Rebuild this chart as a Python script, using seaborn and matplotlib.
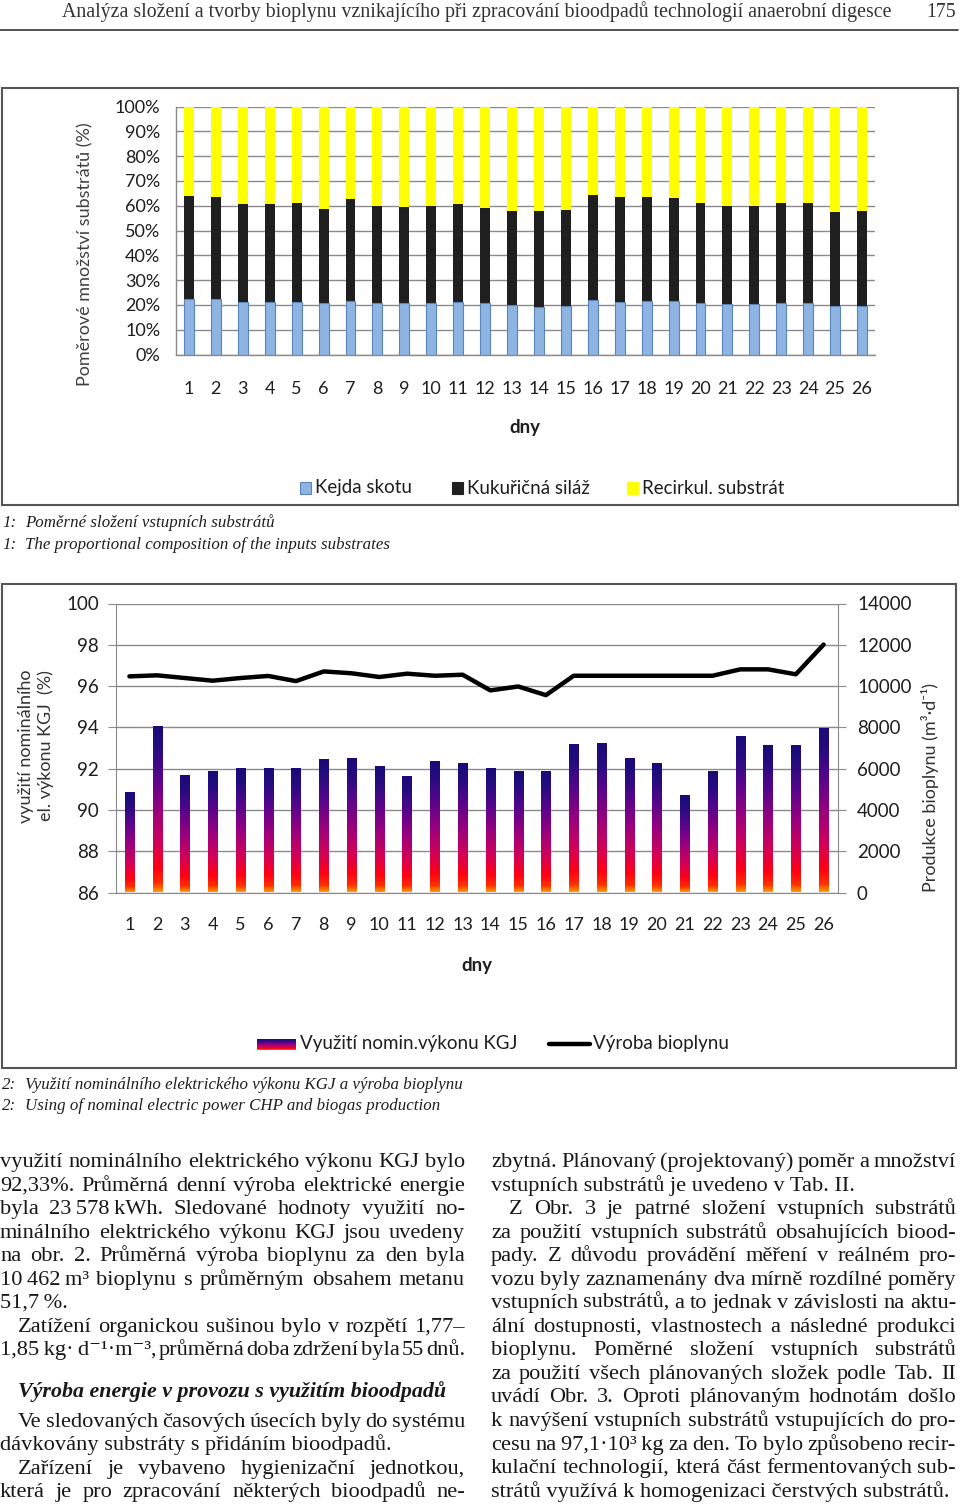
import numpy as np
import pandas as pd
import seaborn as sns
import matplotlib
matplotlib.use("Agg")
import matplotlib.pyplot as plt
from matplotlib.patches import Rectangle
from matplotlib.lines import Line2D
from matplotlib.colors import LinearSegmentedColormap
from matplotlib.font_manager import FontProperties

# ---------------- data ----------------
days = [str(i) for i in range(1, 27)]
kejda_skotu = [22.3, 22.2, 21.0, 21.1, 21.3, 20.6, 21.5, 20.6, 20.6, 20.7, 21.0, 20.6, 19.9,
               19.2, 19.5, 22.1, 21.1, 21.7, 21.5, 20.7, 20.3, 20.3, 20.7, 20.7, 19.5, 19.5]
kukuricna_silaz = [41.6, 41.2, 39.6, 39.5, 39.7, 38.2, 41.1, 39.4, 39.0, 39.3, 39.6, 38.6, 38.1,
                   38.8, 38.9, 42.2, 42.3, 41.7, 41.5, 40.5, 39.7, 39.7, 40.5, 40.5, 38.0, 38.5]
recirkul_substrat = [36.1, 36.6, 39.4, 39.4, 39.0, 41.2, 37.4, 40.0, 40.4, 40.0, 39.4, 40.8, 42.0,
                     42.0, 41.6, 35.7, 36.6, 36.6, 37.0, 38.8, 40.0, 40.0, 38.8, 38.8, 42.5, 42.0]
pct_ticks = [0, 10, 20, 30, 40, 50, 60, 70, 80, 90, 100]
pct_labels = ["0%", "10%", "20%", "30%", "40%", "50%", "60%", "70%", "80%", "90%", "100%"]

vyuziti_kgj = [90.82, 94.0, 91.66, 91.86, 91.97, 92.0, 91.97, 92.42, 92.47, 92.07, 91.6, 92.33, 92.23,
               92.0, 91.86, 91.86, 93.15, 93.2, 92.47, 92.23, 90.68, 91.86, 93.52, 93.12, 93.12, 93.91]
vyroba_bioplynu = [10470, 10520, 10390, 10260, 10390, 10490, 10240, 10710, 10620, 10440, 10600, 10500, 10550,
                   9790, 9980, 9560, 10500, 10500, 10500, 10500, 10500, 10500, 10810, 10810, 10570, 12010]
left_ticks = [86, 88, 90, 92, 94, 96, 98, 100]
right_ticks = [0, 2000, 4000, 6000, 8000, 10000, 12000, 14000]

# ---------------- figure ----------------
sns.set_style("white")
plt.rcParams["font.family"] = ["Lato", "DejaVu Sans"]
W, H = 960, 1507
fig = plt.figure(figsize=(W / 100, H / 100), dpi=100)
fig.patch.set_facecolor("white")


def fx(px):
    return px / W


def fy(py):
    return 1 - py / H


GRID = "#8a8a8a"
TXT = "#1e1e1e"
CHART_FONT = ["Lato", "DejaVu Sans"]

renderer = fig.canvas.get_renderer()


def text_width(s, fp):
    t = fig.text(0, 0, s, fontproperties=fp)
    w = t.get_window_extent(renderer).width
    t.remove()
    return w


def fit_fp(sample, width, **kw):
    fp = FontProperties(size=10, **kw)
    w = text_width(sample, fp)
    return FontProperties(size=10 * width / w, **kw)


SERIF = ["Liberation Serif", "DejaVu Serif"]

# ---------------- header ----------------
header = "Analýza složení a tvorby bioplynu vznikajícího při zpracování bioodpadů technologií anaerobní digesce"
fp_head = fit_fp(header, 831, family=SERIF)
fig.text(fx(62), fy(17), header, fontproperties=fp_head, color="#333333", va="baseline")
fig.text(fx(956), fy(17), "175", fontproperties=fp_head, color="#333333", va="baseline", ha="right")
fig.add_artist(Line2D([0, fx(958)], [fy(30), fy(30)], color="#333333", lw=1.2))

# ---------------- chart 1 ----------------
fig.add_artist(Rectangle((fx(2), fy(505)), fx(956), (505 - 88) / H, fill=False,
                         edgecolor="#555555", lw=1.5))
ax1 = fig.add_axes([fx(175.5), fy(354.5), 700 / W, (354.5 - 106.5) / H])
ax1.set_facecolor("none")
cum_black = [a + b for a, b in zip(kejda_skotu, kukuricna_silaz)]
cum_all = [a + b for a, b in zip(cum_black, recirkul_substrat)]
df1 = pd.DataFrame({"den": days, "kejda": kejda_skotu, "cb": cum_black, "ca": cum_all})
sns.barplot(data=df1, x="den", y="ca", color="#ffff00", width=0.37, saturation=1, ax=ax1,
            edgecolor="none", zorder=2)
sns.barplot(data=df1, x="den", y="cb", color="#1f1f1f", width=0.37, saturation=1, ax=ax1,
            edgecolor="none", zorder=2)
sns.barplot(data=df1, x="den", y="kejda", color="#8db4e2", width=0.37, saturation=1, ax=ax1,
            edgecolor="#5b84b9", linewidth=0.8, zorder=2)
ax1.set_ylim(0, 100)
ax1.set_xlim(-0.5, 25.5)
ax1.set_yticks(pct_ticks)
ax1.set_yticklabels(pct_labels)
ax1.set_axisbelow(True)
ax1.yaxis.grid(True, color=GRID, lw=1)
ax1.set_xlabel("")
ax1.set_ylabel("")
for s in ["top", "right"]:
    ax1.spines[s].set_visible(False)
for s in ["left", "bottom"]:
    ax1.spines[s].set_color(GRID)
    ax1.spines[s].set_linewidth(1)
ax1.set_xticks(np.arange(-0.5, 26, 1), minor=True)
ax1.tick_params(axis="x", which="major", length=0, pad=19, labelsize=13, labelcolor=TXT)
ax1.tick_params(axis="x", which="minor", length=6, color=GRID, direction="out")
ax1.tick_params(axis="y", which="major", length=6, color=GRID, direction="out", pad=5,
                labelsize=13, labelcolor=TXT)
fig.text(fx(525), fy(428), "dny", ha="center", va="center", fontsize=13.5, fontweight="bold", color=TXT)
fig.text(fx(85), fy(254), "Poměrové množství substrátů (%)", rotation=90, ha="center", va="center",
         fontsize=13, color="#404040")
leg1 = [("#8db4e2", "#5b84b9", 300, "Kejda skotu"),
        ("#1f1f1f", "#1f1f1f", 452, "Kukuřičná siláž"),
        ("#ffff00", "#ffff00", 627, "Recirkul. substrát")]
for fc, ec, x0, lab in leg1:
    fig.add_artist(Rectangle((fx(x0), fy(494)), 11 / W, 12 / H, facecolor=fc, edgecolor=ec, lw=0.8))
    fig.text(fx(x0 + 15), fy(488), lab, ha="left", va="center", fontsize=13.5, color=TXT)

# captions 1
fp_cap1 = fit_fp("The proportional composition of the inputs substrates", 363, family=SERIF, style="italic")
fig.text(fx(2), fy(527), "1:", fontproperties=fp_cap1, color=TXT, va="baseline")
fig.text(fx(25), fy(527), "Poměrné složení vstupních substrátů", fontproperties=fp_cap1, color=TXT, va="baseline")
fig.text(fx(2), fy(549), "1:", fontproperties=fp_cap1, color=TXT, va="baseline")
fig.text(fx(25), fy(549), "The proportional composition of the inputs substrates", fontproperties=fp_cap1,
         color=TXT, va="baseline")

# ---------------- chart 2 ----------------
fig.add_artist(Rectangle((fx(2), fy(1068)), fx(954), (1068 - 584) / H, fill=False,
                         edgecolor="#555555", lw=1.5))
ax2 = fig.add_axes([fx(115.5), fy(892.5), 722 / W, (892.5 - 603.5) / H])
ax2.set_facecolor("none")
df2 = pd.DataFrame({"den": days, "vyuziti": vyuziti_kgj})
sns.barplot(data=df2, x="den", y="vyuziti", color="#2a0f85", width=0.33, saturation=1, ax=ax2,
            edgecolor="none", zorder=2)
cmap = LinearSegmentedColormap.from_list(
    "kgj", [(0.0, "#ff9a00"), (0.05, "#ff3000"), (0.14, "#ff0014"), (0.30, "#d0005a"),
            (0.50, "#96007f"), (0.70, "#55058c"), (0.88, "#240c80"), (1.0, "#1a0a78")])
grad = np.linspace(0, 1, 256).reshape(-1, 1)
for p in list(ax2.patches):
    x0, w, top = p.get_x(), p.get_width(), p.get_height()
    ax2.imshow(grad, extent=[x0, x0 + w, 86, top], origin="lower", aspect="auto", cmap=cmap,
               zorder=2, interpolation="bilinear")
    p.set_facecolor("none")
ax2r = ax2.twinx()
sns.lineplot(x=np.arange(len(days)), y=vyroba_bioplynu, ax=ax2r, color="black", lw=3.2, zorder=3)
ax2.set_ylim(86, 100)
ax2.set_xlim(-0.5, 25.5)
ax2r.set_ylim(0, 14000)
ax2.set_yticks(left_ticks)
ax2r.set_yticks(right_ticks)
ax2.set_axisbelow(True)
ax2.yaxis.grid(True, color=GRID, lw=1)
ax2.set_xlabel("")
ax2.set_ylabel("")
ax2r.set_xlabel("")
ax2r.set_ylabel("")
for s in ["top", "right"]:
    ax2.spines[s].set_visible(False)
for s in ["top", "left", "bottom"]:
    ax2r.spines[s].set_visible(False)
for s in ["left", "bottom"]:
    ax2.spines[s].set_color(GRID)
ax2r.spines["right"].set_color(GRID)
ax2.set_xticks(np.arange(-0.5, 26, 1), minor=True)
ax2.tick_params(axis="x", which="major", length=0, pad=18, labelsize=13, labelcolor=TXT)
ax2.tick_params(axis="x", which="minor", length=6, color=GRID, direction="out")
ax2.tick_params(axis="y", which="major", length=6, color=GRID, direction="out", pad=6,
                labelsize=13.5, labelcolor=TXT)
ax2r.tick_params(axis="y", which="major", length=6, color=GRID, direction="out", pad=8,
                 labelsize=13.5, labelcolor=TXT)
fig.text(fx(476.5), fy(966), "dny", ha="center", va="center", fontsize=13.5, fontweight="bold", color=TXT)
fig.text(fx(36), fy(746), "využití nominálního\nel. výkonu KGJ  (%)", rotation=90, ha="center",
         va="center", fontsize=13, color="#333333", linespacing=1.2, multialignment="center")
fig.text(fx(930), fy(787), "Produkce bioplynu (m³·d⁻¹)", rotation=90, ha="center", va="center",
         fontsize=13, color="#333333", family=CHART_FONT)
lax = fig.add_axes([fx(257), fy(1050), 39 / W, 11 / H])
lax.imshow(grad, origin="lower", aspect="auto", cmap=cmap, extent=[0, 1, 0, 1])
lax.set_axis_off()
fig.text(fx(300), fy(1044), "Využití nomin.výkonu KGJ", ha="left", va="center", fontsize=13.5, color=TXT)
fig.add_artist(Line2D([fx(549), fx(590)], [fy(1044), fy(1044)], color="black", lw=3.2))
fig.text(fx(593), fy(1044), "Výroba bioplynu", ha="left", va="center", fontsize=13.5, color=TXT)

# captions 2
fig.text(fx(2), fy(1089), "2:", fontproperties=fp_cap1, color=TXT, va="baseline")
fig.text(fx(25), fy(1089), "Využití nominálního elektrického výkonu KGJ a výroba bioplynu",
         fontproperties=fp_cap1, color=TXT, va="baseline")
fig.text(fx(2), fy(1110), "2:", fontproperties=fp_cap1, color=TXT, va="baseline")
fig.text(fx(25), fy(1110), "Using of nominal electric power CHP and biogas production",
         fontproperties=fp_cap1, color=TXT, va="baseline")

# ---------------- body text ----------------
TS = "\u2009"
fp_body = fit_fp("strátů využívá k homogenizaci čerstvých substrátů.", 457, family=SERIF)
BODY = "#1a1718"


def put_line(x0, x1, y, s, fp, justify):
    if not justify:
        fig.text(fx(x0), fy(y), s, fontproperties=fp, va="baseline", ha="left", color=BODY)
        return
    words = s.split(" ")
    ws = [text_width(wd, fp) for wd in words]
    gap = max((x1 - x0 - sum(ws)) / max(len(words) - 1, 1), 2.0)
    x = x0
    for wd, wdw in zip(words, ws):
        fig.text(fx(x), fy(y), wd, fontproperties=fp, va="baseline", ha="left", color=BODY)
        x += wdw + gap


left_col = [
    (0, "využití nominálního elektrického výkonu KGJ bylo", True),
    (0, "92,33%. Průměrná denní výroba elektrické energie", True),
    (0, "byla 23" + TS + "578" + TS + "kWh. Sledované hodnoty využití no-", True),
    (0, "minálního elektrického výkonu KGJ jsou uvedeny", True),
    (0, "na obr. 2. Průměrná výroba bioplynu za den byla", True),
    (0, "10" + TS + "462" + TS + "m³ bioplynu s průměrným obsahem metanu", True),
    (0, "51,7" + TS + "%.", False),
    (18, "Zatížení organickou sušinou bylo v rozpětí 1,77–", True),
    (0, "1,85" + TS + "kg·" + TS + "d⁻¹·m⁻³, průměrná doba zdržení byla 55 dnů.", True),
]
ys_left = [1161, 1185, 1208, 1232, 1255, 1279, 1302, 1326, 1349]
for (ind, s, j), y in zip(left_col, ys_left):
    put_line(0 + ind, 465, y + 6, s, fp_body, j)

fp_bold = fit_fp("Výroba energie v provozu s využitím bioodpadů", 429, family=SERIF,
                 style="italic", weight="bold")
fig.text(fx(18), fy(1397), "Výroba energie v provozu s využitím bioodpadů", fontproperties=fp_bold,
         va="baseline", color=BODY)
left_col2 = [
    (18, "Ve sledovaných časových úsecích byly do systému", True),
    (0, "dávkovány substráty s přidáním bioodpadů.", False),
    (18, "Zařízení je vybaveno hygienizační jednotkou,", True),
    (0, "která je pro zpracování některých bioodpadů ne-", True),
]
for (ind, s, j), y in zip(left_col2, [1421, 1444, 1468, 1491]):
    put_line(0 + ind, 465, y + 6, s, fp_body, j)

right_col = [
    (0, "zbytná. Plánovaný (projektovaný) poměr a množství", True),
    (0, "vstupních substrátů je uvedeno v Tab. II.", False),
    (18, "Z Obr. 3 je patrné složení vstupních substrátů", True),
    (0, "za použití vstupních substrátů obsahujících biood-", True),
    (0, "pady. Z důvodu provádění měření v reálném pro-", True),
    (0, "vozu byly zaznamenány dva mírně rozdílné poměry", True),
    (0, "vstupních substrátů, a to jednak v závislosti na aktu-", True),
    (0, "ální dostupnosti, vlastnostech a následné produkci", True),
    (0, "bioplynu. Poměrné složení vstupních substrátů", True),
    (0, "za použití všech plánovaných složek podle Tab. II", True),
    (0, "uvádí Obr. 3. Oproti plánovaným hodnotám došlo", True),
    (0, "k navýšení vstupních substrátů vstupujících do pro-", True),
    (0, "cesu na 97,1·10³" + TS + "kg za den. To bylo způsobeno recir-", True),
    (0, "kulační technologií, která část fermentovaných sub-", True),
    (0, "strátů využívá k homogenizaci čerstvých substrátů.", False),
]
ys_right = [1161, 1185, 1208, 1232, 1255, 1279, 1302, 1326, 1349, 1373, 1396, 1420, 1444, 1467, 1491]
for (ind, s, j), y in zip(right_col, ys_right):
    put_line(491 + ind, 956, y + 6, s, fp_body, j)

fig.savefig("out.png", dpi=100, facecolor="white")
